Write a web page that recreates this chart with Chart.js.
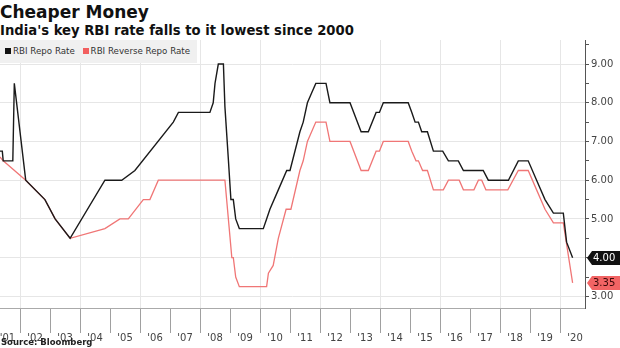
<!DOCTYPE html>
<html>
<head>
<meta charset="utf-8">
<script src="https://cdn.jsdelivr.net/npm/chart.js@4.4.1/dist/chart.umd.min.js"></script>
<style>
  body {
    margin: 0;
    width: 620px;
    height: 348px;
    position: relative;
    background: #fff;
    font-family: "DejaVu Sans", sans-serif;
    overflow: hidden;
  }
  #title {
    position: absolute; left: 0; top: 1px;
    font-size: 17px; font-weight: bold; color: #111; line-height: 22px;
  }
  #subtitle {
    position: absolute; left: 0; top: 22px;
    font-size: 13.2px; font-weight: bold; color: #111; line-height: 17px;
  }
  #rates { position: absolute; left: 0; top: 40px; }
  #legend {
    position: absolute; left: 0; top: 40px; width: 197px; height: 23px;
    background: #f0f0f0; font-size: 8.7px; color: #333; line-height: 23px;
    white-space: nowrap;
  }
  #legend span.box { display: inline-block; width: 6px; height: 6px; margin: 0 2px 0 5px; vertical-align: 0; }
  #source {
    position: absolute; left: 1px; top: 337px;
    font-size: 8.5px; font-weight: bold; color: #222;
  }
</style>
</head>
<body>
<div id="title">Cheaper Money</div>
<div id="subtitle">India's key RBI rate falls to it lowest since 2000</div>
<canvas id="rates" width="620" height="308"></canvas>
<div id="legend"><span class="box" style="background:#111"></span>RBI Repo Rate <span class="box" style="background:#f25f5f"></span>RBI Reverse Repo Rate</div>
<div id="source">Source: Bloomberg</div>
<script>
// dates as decimal years
const repoDates = [2001.33, 2001.41, 2001.44, 2001.76, 2001.81, 2002.19, 2002.83, 2003.17, 2003.67, 2004.83,
  2005.39, 2005.83, 2007.11, 2007.28, 2008.33, 2008.44, 2008.5, 2008.61, 2008.78, 2008.83, 2008.94,
  2009.03, 2009.11, 2009.19, 2009.31, 2010.11, 2010.22, 2010.33, 2010.61, 2010.89, 2011.0, 2011.33,
  2011.44, 2011.58, 2011.72, 2011.86, 2012.2, 2012.33, 2013.0, 2013.37, 2013.61, 2013.87, 2013.98,
  2014.11, 2014.94, 2015.06, 2015.17, 2015.28, 2015.39, 2015.58, 2015.78, 2016.09, 2016.28, 2016.61,
  2016.78, 2017.44, 2017.61, 2018.28, 2018.61, 2018.94, 2019.22, 2019.5, 2019.78, 2020.11, 2020.22, 2020.42];
const repoRates = [6.75, 6.75, 6.5, 6.5, 8.5, 6.0, 5.5, 5.0, 4.5, 6.0,
  6.0, 6.25, 7.5, 7.75, 7.75, 8.0, 8.5, 9.0, 9.0, 7.9, 6.6,
  5.5, 5.5, 5.0, 4.75, 4.75, 5.0, 5.25, 5.75, 6.25, 6.25, 7.25,
  7.5, 8.0, 8.25, 8.5, 8.5, 8.0, 8.0, 7.25, 7.25, 7.75, 7.75,
  8.0, 8.0, 7.75, 7.5, 7.5, 7.25, 7.25, 6.75, 6.75, 6.5, 6.5,
  6.25, 6.25, 6.0, 6.0, 6.5, 6.5, 6.0, 5.5, 5.15, 5.15, 4.4, 4.0];

const reverseDates = [2001.33, 2001.44, 2002.19, 2002.83, 2003.17, 2003.67, 2004.83, 2005.33, 2005.61, 2006.11,
  2006.33, 2006.61, 2008.83, 2009.06, 2009.11, 2009.19, 2009.31, 2010.22, 2010.28, 2010.44, 2010.61,
  2010.87, 2011.03, 2011.33, 2011.44, 2011.58, 2011.72, 2011.86, 2012.2, 2012.33, 2013.0, 2013.37,
  2013.61, 2013.87, 2013.98, 2014.11, 2014.94, 2015.06, 2015.2, 2015.28, 2015.42, 2015.58, 2015.78,
  2016.11, 2016.28, 2016.64, 2016.78, 2017.13, 2017.28, 2017.39, 2017.53, 2018.26, 2018.61, 2018.94,
  2019.22, 2019.5, 2019.78, 2020.11, 2020.42];
const reverseRates = [6.6, 6.5, 6.0, 5.5, 5.0, 4.5, 4.75, 5.0, 5.0, 5.5,
  5.5, 6.0, 6.0, 4.0, 4.0, 3.5, 3.25, 3.25, 3.6, 3.8, 4.5,
  5.25, 5.25, 6.25, 6.5, 7.0, 7.25, 7.5, 7.5, 7.0, 7.0, 6.25,
  6.25, 6.75, 6.75, 7.0, 7.0, 6.75, 6.5, 6.5, 6.25, 6.25, 5.75,
  5.75, 6.0, 6.0, 5.75, 5.75, 6.0, 6.0, 5.75, 5.75, 6.25, 6.25,
  5.75, 5.25, 4.9, 4.9, 3.35];

const years = [2001, 2002, 2003, 2004, 2005, 2006, 2007, 2008, 2009, 2010,
  2011, 2012, 2013, 2014, 2015, 2016, 2017, 2018, 2019, 2020];
const yearLabels = ["'01", "'02", "'03", "'04", "'05", "'06", "'07", "'08", "'09", "'10",
  "'11", "'12", "'13", "'14", "'15", "'16", "'17", "'18", "'19", "'20"];
const rateTicks = [3, 3.5, 4, 4.5, 5, 5.5, 6, 6.5, 7, 7.5, 8, 8.5, 9, 9.5];

const REPO_COLOR = '#1a1a1a';
const REVERSE_COLOR = '#f07676';
const GRID = '#e6e6e6';
const CLEAR = 'rgba(0,0,0,0)';
const X_MIN = 2001.333;
const X_MAX = 2020.833;

const toPoints = (xs, ys) => xs.map((x, i) => ({ x: x, y: ys[i] }));

// labels sit mid year (first one mid of its visible part), separators at year boundaries
const labelAt = years.map(y => Math.max(y + 0.5, X_MIN + 0.25));
const labelFor = new Map(labelAt.map((v, i) => [v, yearLabels[i]]));
const boundaries = years.slice(1);

// last value boxes on the right axis
const lastValuePlugin = {
  id: 'lastValue',
  afterDraw(chart) {
    const ctx = chart.ctx;
    const yScale = chart.scales.y;
    const left = chart.chartArea.right + 2;
    const boxes = [
      { v: repoRates[repoRates.length - 1], bg: '#111', fg: '#fff' },
      { v: reverseRates[reverseRates.length - 1], bg: '#f26464', fg: '#3a0808' }
    ];
    ctx.save();
    ctx.font = '10px "DejaVu Sans"';
    ctx.textBaseline = 'middle';
    boxes.forEach(b => {
      const y = Math.round(yScale.getPixelForValue(b.v));
      ctx.fillStyle = b.bg;
      ctx.beginPath();
      ctx.moveTo(left, y);
      ctx.lineTo(left + 5, y - 7);
      ctx.lineTo(620, y - 7);
      ctx.lineTo(620, y + 7);
      ctx.lineTo(left + 5, y + 7);
      ctx.closePath();
      ctx.fill();
      ctx.fillStyle = b.fg;
      ctx.fillText(b.v.toFixed(2), left + 6, y + 0.5);
    });
    ctx.restore();
  }
};

const canvas = document.getElementById('rates');
const chart = new Chart(canvas.getContext('2d'), {
  type: 'line',
  data: {
    datasets: [{
      label: 'RBI Repo Rate',
      data: toPoints(repoDates, repoRates),
      borderColor: REPO_COLOR,
      borderWidth: 1.4,
      pointRadius: 0,
      tension: 0
    }, {
      label: 'RBI Reverse Repo Rate',
      data: toPoints(reverseDates, reverseRates),
      borderColor: REVERSE_COLOR,
      borderWidth: 1.3,
      pointRadius: 0,
      tension: 0
    }]
  },
  options: {
    responsive: false,
    animation: false,
    devicePixelRatio: 1,
    layout: { padding: 0 },
    plugins: {
      legend: { display: false },
      tooltip: { enabled: false }
    },
    scales: {
      // boundary grid + separator ticks, zero height, closest to the plot
      xSep: {
        type: 'linear',
        position: 'bottom',
        weight: -1,
        min: X_MIN,
        max: X_MAX,
        afterBuildTicks: scale => {
          scale.ticks = boundaries.map(v => ({ value: v }));
        },
        afterFit: scale => {
          scale.height = 0;
          scale.paddingLeft = 0;
          scale.paddingRight = 0;
        },
        ticks: { display: false },
        grid: {
          color: ctx => ctx.tick.value % 2 === 0 ? GRID : CLEAR,
          tickColor: '#a0a0a0',
          tickLength: 25,
          tickWidth: 1
        },
        border: { display: true, color: '#aaa' }
      },
      x: {
        type: 'linear',
        position: 'bottom',
        min: X_MIN,
        max: X_MAX,
        afterBuildTicks: scale => {
          scale.ticks = labelAt.map(v => ({ value: v }));
        },
        afterFit: scale => {
          scale.height = 40;
          scale.paddingLeft = 0;
          scale.paddingRight = 0;
        },
        ticks: {
          autoSkip: false,
          maxRotation: 0,
          padding: 16,
          color: '#444',
          font: { family: 'DejaVu Sans', size: 10 },
          callback: value => labelFor.get(value) || ''
        },
        grid: { display: false },
        border: { display: false }
      },
      y: {
        position: 'right',
        min: 2.7,
        max: 9.62,
        afterBuildTicks: scale => {
          scale.ticks = rateTicks.map(v => ({ value: v }));
        },
        afterFit: scale => {
          scale.width = 35;
          scale.paddingTop = 0;
          scale.paddingBottom = 0;
        },
        ticks: {
          padding: 2,
          color: '#444',
          font: { family: 'DejaVu Sans', size: 10 },
          callback: value => Number.isInteger(value) ? value.toFixed(2) : ''
        },
        grid: {
          color: ctx => Number.isInteger(ctx.tick.value) ? GRID : CLEAR,
          tickColor: '#555',
          tickLength: 4
        },
        border: { display: true, color: '#555' }
      }
    }
  },
  plugins: [lastValuePlugin]
});
</script>
</body>
</html>
